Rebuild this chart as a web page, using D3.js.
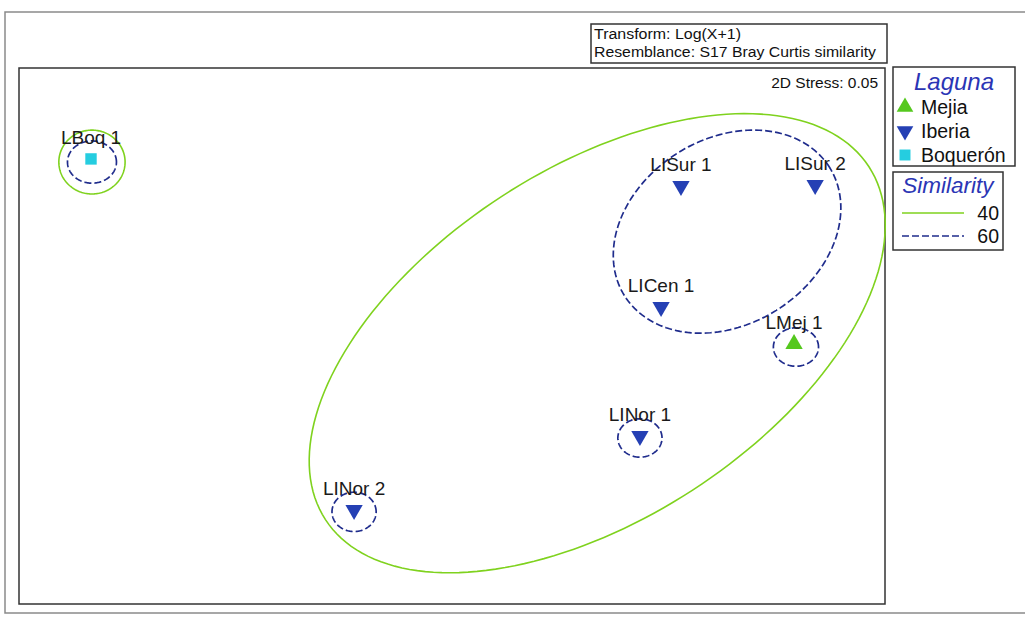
<!DOCTYPE html>
<html>
<head>
<meta charset="utf-8">
<script src="https://cdn.jsdelivr.net/npm/d3@7"></script>
<style>
  html, body { margin: 0; padding: 0; background: #ffffff; }
  svg { display: block; font-family: "Liberation Sans", Arial, sans-serif; }
</style>
</head>
<body>
<svg id="chart" width="1025" height="619"></svg>
<script>
// nMDS ordination of sampling sites
const samples = ["LBoq 1", "LISur 1", "LISur 2", "LICen 1", "LMej 1", "LINor 1", "LINor 2"];
const laguna  = ["Boquerón", "Iberia", "Iberia", "Iberia", "Mejia", "Iberia", "Iberia"];
const mdsX = [-1.504, 0.954, 1.513, 0.871, 1.425, 0.783, -0.408];
const mdsY = [ 0.738, 0.625, 0.629, 0.121, -0.033, -0.417, -0.725];

// Legend groups
const groups = ["Mejia", "Iberia", "Boquerón"];
const groupColors = ["#55c81e", "#2540b4", "#25cde0"];
const groupShapes = ["up", "down", "square"];

// Similarity contours (cluster level, centre, semi-axes, rotation in degrees)
const simLevels = [40, 60];
const contourLevel = [40, 60, 40, 60, 60, 60, 60];
const contourCX    = [0.605, 1.146, -1.500, -1.500, 1.433, 0.783, -0.408];
const contourCY    = [-0.030, 0.435, 0.725, 0.725, -0.046, -0.425, -0.733];
const contourRX    = [1.350, 0.504, 0.138, 0.102, 0.094, 0.092, 0.092];
const contourRY    = [0.730, 0.387, 0.133, 0.088, 0.080, 0.080, 0.082];
const contourRot   = [33, 32, 0, 0, 0, 0, 0];

const headerLines = ["Transform: Log(X+1)", "Resemblance: S17 Bray Curtis similarity"];
const stressLabel = "2D Stress: 0.05";

const svg = d3.select("#chart");

const plot = { left: 19, right: 885, top: 68, bottom: 604 };
const x = d3.scaleLinear().domain([-1.804, 1.804]).range([plot.left, plot.right]);
const y = d3.scaleLinear().domain([-1.117, 1.117]).range([plot.bottom, plot.top]);

const levelStyle = {
  40: { stroke: "#7fd21e", dash: null, width: 1.6 },
  60: { stroke: "#1f2c8c", dash: "7,3", width: 1.7 }
};

// Outer page frame
svg.append("path")
  .attr("d", "M1025,12 L5,12 L5,613 L1025,613")
  .attr("fill", "none").attr("stroke", "#8a8a8a").attr("stroke-width", 1.5);

// Plot frame
svg.append("rect")
  .attr("x", plot.left).attr("y", plot.top)
  .attr("width", plot.right - plot.left).attr("height", plot.bottom - plot.top)
  .attr("fill", "none").attr("stroke", "#333").attr("stroke-width", 1.5);

// Header box
const hdr = svg.append("g");
hdr.append("rect").attr("x", 591).attr("y", 24).attr("width", 296).attr("height", 39)
  .attr("fill", "#fff").attr("stroke", "#333").attr("stroke-width", 1.5);
hdr.selectAll("text").data(headerLines).join("text")
  .attr("x", 594).attr("y", (d, i) => 39 + i * 18)
  .attr("font-size", 14)
  .attr("textLength", (d, i) => i === 0 ? 147 : 282)
  .attr("lengthAdjust", "spacingAndGlyphs")
  .attr("fill", "#111")
  .text(d => d);

svg.append("text").attr("x", 878).attr("y", 88)
  .attr("text-anchor", "end").attr("font-size", 15.5).attr("fill", "#111")
  .text(stressLabel);

// Contours drawn in ordination space
function ellipsePath(i) {
  const rot = contourRot[i] * Math.PI / 180;
  const pts = d3.range(0, 181).map(k => {
    const t = k / 180 * 2 * Math.PI;
    const ex = contourRX[i] * Math.cos(t), ey = contourRY[i] * Math.sin(t);
    const dx = ex * Math.cos(rot) - ey * Math.sin(rot);
    const dy = ex * Math.sin(rot) + ey * Math.cos(rot);
    return [x(contourCX[i] + dx), y(contourCY[i] + dy)];
  });
  return d3.line().curve(d3.curveLinearClosed)(pts);
}
svg.append("clipPath").attr("id", "plotclip").append("rect")
  .attr("x", plot.left).attr("y", plot.top)
  .attr("width", plot.right - plot.left + 3).attr("height", plot.bottom - plot.top);

svg.append("g").attr("clip-path", "url(#plotclip)")
  .selectAll("path").data(d3.range(contourLevel.length)).join("path")
  .attr("d", i => ellipsePath(i))
  .attr("fill", "none")
  .attr("stroke", i => levelStyle[contourLevel[i]].stroke)
  .attr("stroke-width", i => levelStyle[contourLevel[i]].width)
  .attr("stroke-dasharray", i => levelStyle[contourLevel[i]].dash);

// Marker symbols
function symbolPath(shape, size) {
  if (shape === "square") return d3.symbol().type(d3.symbolSquare).size(size)();
  return d3.symbol().type(d3.symbolTriangle).size(size)();
}
function shapeTransform(shape) {
  return shape === "down" ? "rotate(180)" : "";
}
const idx = g => groups.indexOf(g);

const pts = svg.append("g");
const node = pts.selectAll("g").data(d3.range(samples.length)).join("g")
  .attr("transform", i => `translate(${x(mdsX[i])},${y(mdsY[i])})`);
node.append("path")
  .attr("d", i => symbolPath(groupShapes[idx(laguna[i])], 130))
  .attr("transform", i => shapeTransform(groupShapes[idx(laguna[i])]))
  .attr("fill", i => groupColors[idx(laguna[i])]);
node.append("text")
  .attr("x", 0).attr("y", -15)
  .attr("text-anchor", "middle")
  .attr("font-size", 19)
  .attr("fill", "#1a1a1a")
  .text(i => samples[i]);

// Legend: Laguna
const lg = svg.append("g");
lg.append("rect").attr("x", 893).attr("y", 67).attr("width", 122).attr("height", 99)
  .attr("fill", "#fff").attr("stroke", "#333").attr("stroke-width", 1.5);
lg.append("text").attr("x", 954).attr("y", 90).attr("text-anchor", "middle")
  .attr("font-size", 24).attr("font-style", "italic").attr("fill", "#2b35b5").text("Laguna");
const li = lg.selectAll("g.item").data(groups).join("g").attr("class", "item")
  .attr("transform", (d, i) => `translate(905,${107 + i * 24})`);
li.append("path")
  .attr("d", (d, i) => symbolPath(groupShapes[i], 120))
  .attr("transform", (d, i) => shapeTransform(groupShapes[i]))
  .attr("fill", (d, i) => groupColors[i]);
li.append("text").attr("x", 16).attr("y", 7).attr("font-size", 19.5).attr("fill", "#111").text(d => d);

// Legend: Similarity
const sg = svg.append("g");
sg.append("rect").attr("x", 893).attr("y", 172).attr("width", 110).attr("height", 78)
  .attr("fill", "#fff").attr("stroke", "#333").attr("stroke-width", 1.5);
sg.append("text").attr("x", 948).attr("y", 193).attr("text-anchor", "middle")
  .attr("font-size", 22.5).attr("font-style", "italic").attr("fill", "#2b35b5").text("Similarity");
const si = sg.selectAll("g.item").data(simLevels).join("g").attr("class", "item")
  .attr("transform", (d, i) => `translate(0,${213 + i * 23})`);
si.append("line").attr("x1", 902).attr("x2", 964).attr("y1", 0).attr("y2", 0)
  .attr("stroke", d => levelStyle[d].stroke)
  .attr("stroke-width", d => levelStyle[d].width)
  .attr("stroke-dasharray", d => levelStyle[d].dash);
si.append("text").attr("x", 999).attr("y", 7).attr("text-anchor", "end")
  .attr("font-size", 19.5).attr("fill", "#111").text(d => d);
</script>
</body>
</html>
